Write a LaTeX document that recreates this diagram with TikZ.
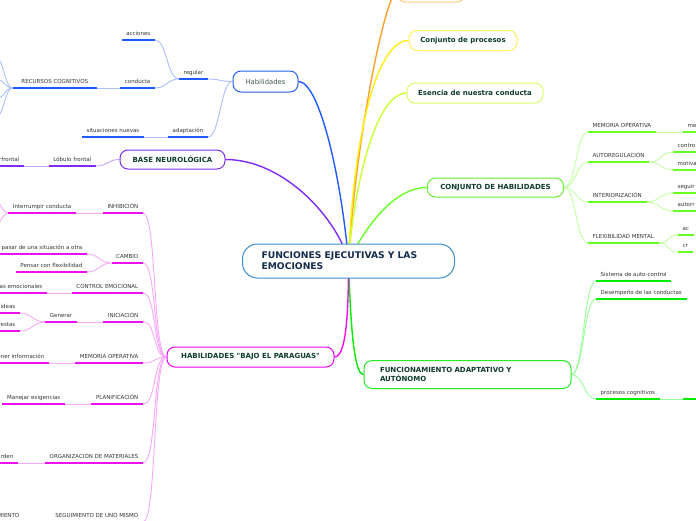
\documentclass[tikz,border=0pt]{standalone}
\usepackage{fontspec}
\setmainfont{DejaVu Sans}
\usepackage{xcolor}
\usepackage{tikz}
\usetikzlibrary{backgrounds}
\definecolor{rootblue}{HTML}{3E8ED0}
\definecolor{roottxt}{HTML}{142C4C}
\definecolor{boxtxt}{HTML}{0E3B2E}
\definecolor{habtxt}{HTML}{3D5A50}
\definecolor{leaftxt}{HTML}{333333}
\definecolor{orng}{HTML}{FF9F2E}
\definecolor{orngbox}{HTML}{FFC97A}
\definecolor{yel}{HTML}{FFEE11}
\definecolor{yelbox}{HTML}{FFF25A}
\definecolor{limeg}{HTML}{CCFF33}
\definecolor{limebox}{HTML}{D9FF66}
\definecolor{grn}{HTML}{66FF22}
\definecolor{grnl}{HTML}{C2FFA0}
\definecolor{grnbox}{HTML}{66EE33}
\definecolor{fgr}{HTML}{00EE00}
\definecolor{fgrl}{HTML}{99FF99}
\definecolor{fgrbox}{HTML}{22EE22}
\definecolor{blu}{HTML}{1F5BFF}
\definecolor{blul}{HTML}{A8C0FF}
\definecolor{blubox}{HTML}{2860F0}
\definecolor{pur}{HTML}{7F2BF5}
\definecolor{purl}{HTML}{C5A4FB}
\definecolor{purbox}{HTML}{7B2EE8}
\definecolor{mag}{HTML}{EE11EE}
\definecolor{magl}{HTML}{F8A8F8}
\definecolor{magbox}{HTML}{EE00EE}
\newcommand{\leaffont}{\fontsize{5.5}{6}\selectfont}
\newcommand{\boxfont}{\fontsize{7}{9}\selectfont\bfseries}
\newcommand{\rootfont}{\fontsize{9.2}{11}\selectfont\bfseries}
\tikzset{
  topic/.style={draw=#1,line width=1pt,rounded corners=8pt,fill=white,
                font=\boxfont,text=boxtxt,inner sep=0pt,minimum height=20pt},
  leaf/.style={font=\leaffont,text=leaftxt,inner xsep=4.5pt,inner ysep=2.5pt,
               text height=4.5pt,text depth=1.5pt,
               append after command={(\tikzlastnode.south west) edge[draw=#1,line width=2pt] (\tikzlastnode.south east)}},
  lleaf/.style={leaf=#1,anchor=south east},
  rleaf/.style={leaf=#1,anchor=south west},
  branch/.style={draw=#1,line width=1.4pt},
  con/.style={draw=#1,line width=0.9pt}
}

\begin{document}
\begin{tikzpicture}[x=1pt,y=-1pt]
  \useasboundingbox (0,0) rectangle (696,520);
  \clip (0,0) rectangle (696,520);
  % central topic and main topics
  \node[draw=rootblue,line width=1pt,rounded corners=15pt,fill=white,minimum height=34pt,
        text width=174pt,inner xsep=19pt,inner ysep=0pt,align=left,font=\rootfont,text=roottxt]
        (root) at (348.5,261) {FUNCIONES EJECUTIVAS Y LAS\\EMOCIONES};
  \node[topic=orngbox,minimum width=68pt] (orange) at (431,-8) {};
  \node[topic=yelbox,minimum width=108pt] (procesos) at (463,40.5) {Conjunto de procesos};
  \node[topic=limebox,minimum width=136pt] (esencia) at (475,93) {Esencia de nuestra conducta};
  \node[topic=grnbox,minimum width=136pt,minimum height=19pt] (conj) at (495.5,187.5) {CONJUNTO DE HABILIDADES};
  \node[topic=fgrbox,minimum height=28pt,text width=175pt,inner xsep=16pt,align=left]
        (func) at (467.5,374.5) {FUNCIONAMIENTO ADAPTATIVO Y\\AUTÓNOMO};
  \node[topic=blubox,minimum width=65pt,minimum height=21pt,font=\fontsize{6.8}{8}\selectfont,text=habtxt]
        (hab) at (265.5,81.5) {Habilidades};
  \node[topic=purbox,minimum width=105pt,minimum height=19pt] (base) at (172.5,159.5) {BASE NEUROLÓGICA};
  \node[topic=magbox,minimum width=167pt] (bajo) at (250.5,357) {HABILIDADES \textquotedbl{}BAJO EL PARAGUAS\textquotedbl};

  % Habilidades
  \node[lleaf=blu] (regular) at (208,79) {regular};
  \node[lleaf=blu] (acciones) at (155,40) {acciones};
  \node[lleaf=blu] (conducta) at (155,88) {conducta};
  \node[lleaf=blu,minimum width=84pt] (recursos) at (97,88) {RECURSOS COGNITIVOS};
  \node[lleaf=blu] (adapt) at (208,137) {adaptación};
  \node[lleaf=blu] (situac) at (144,137) {situaciones nuevas};
  \coordinate (rc1) at (-4,58);
  \coordinate (rc2) at (-4,79);
  \coordinate (rc3) at (-4,99);
  \coordinate (rc4) at (-4,117);

  % base neurologica
  \node[lleaf=pur] (lobulo) at (96,166) {Lóbulo frontal};
  \node[lleaf=pur] (prefr) at (24,166) {rfrontal};

  % bajo el paraguas
  \node[lleaf=mag] (inhib) at (143,213) {INHIBICIÓN};
  \node[lleaf=mag] (interr) at (76,213) {Interrumpir conducta};
  \coordinate (ir1) at (-6,200);
  \coordinate (ir2) at (-6,226);
  \node[lleaf=mag] (cambio) at (143,263) {CAMBIO};
  \node[lleaf=mag] (pasar) at (87,254) {pasar de una situación a otra};
  \node[lleaf=mag] (pensar) at (87,272) {Pensar con flexibilidad};
  \node[lleaf=mag] (control) at (143,293) {CONTROL EMOCIONAL};
  \node[lleaf=mag] (emoc) at (47,293) {as emocionales};
  \node[lleaf=mag] (inic) at (143,322) {INICIACIÓN};
  \node[lleaf=mag] (generar) at (77,322) {Generar};
  \node[lleaf=mag] (ideas) at (20,313) {ideas};
  \node[lleaf=mag] (respu) at (20,331) {uestas};
  \node[lleaf=mag] (memop) at (143,363) {MEMORIA OPERATIVA};
  \node[lleaf=mag] (mante) at (49,363) {ener información};
  \node[lleaf=mag] (planif) at (143,404) {PLANIFICACIÓN};
  \node[lleaf=mag] (manejar) at (65,404) {Manejar exigencias};
  \node[lleaf=mag] (organiz) at (143,463) {ORGANIZACIÓN DE MATERIALES};
  \node[lleaf=mag] (orden) at (18,463) {rden};
  \node[lleaf=mag] (seguim) at (143,522) {SEGUIMIENTO DE UNO MISMO};
  \node[lleaf=mag] (segchild) at (24,522) {MIENTO};

  % conjunto de habilidades
  \node[rleaf=grn] (memo2) at (588,132) {MEMORIA OPERATIVA};
  \node[rleaf=grn] (me) at (683,132) {me};
  \node[rleaf=grn] (autoreg) at (588,162) {AUTOREGULACIÓN};
  \node[rleaf=grn] (contro) at (673,152) {contro};
  \node[rleaf=grn] (motiva) at (673,170) {motiva};
  \node[rleaf=grn] (interior) at (588,202) {INTERIORIZACIÓN};
  \node[rleaf=grn] (seguir) at (673,193) {seguir};
  \node[rleaf=grn] (autorr) at (673,211) {autorr};
  \node[rleaf=grn] (flexi) at (588,243) {FLEXIBILIDAD MENTAL};
  \node[rleaf=grn] (ac) at (678,235) {ac};
  \node[rleaf=grn] (cr) at (678,252) {cr};

  % funcionamiento adaptativo
  \node[rleaf=fgr] (sistema) at (596,281) {Sistema de auto-control};
  \node[rleaf=fgr] (desemp) at (596,299) {Desempeño de las conductas};
  \node[rleaf=fgr] (proccog) at (596,399) {procesos cognitivos};
  \node[rleaf=fgr,minimum width=30pt] (procnext) at (683,399) {};

  \begin{scope}[on background layer]
    \draw[branch=orng] (root.center) .. controls +(8,-130) and +(-10,0) .. (orange.west);
    \draw[branch=yel] (root.center) .. controls +(4,-110) and +(-35,0) .. (procesos.west);
    \draw[branch=limeg] (root.center) .. controls +(6,-80) and +(-30,0) .. (esencia.west);
    \draw[branch=grn] (root.center) .. controls +(15,-30) and +(-35,0) .. (conj.west);
    \draw[branch=fgr] (root.center) .. controls +(2,60) and +(-10,0) .. (func.west);
    \draw[branch=blu] (root.center) .. controls +(-8,-90) and +(20,0) .. (hab.east);
    \draw[branch=pur] (root.center) .. controls +(-10,-40) and +(60,0) .. (base.east);
    \draw[branch=mag] (root.center) .. controls +(0,50) and +(12,0) .. (bajo.east);

    \foreach \n in {regular,adapt}
      \draw[con=blul] (hab.west) .. controls +(-12,0) and +(12,0) .. (\n.south east);
    \foreach \n in {acciones,conducta}
      \draw[con=blul] (regular.south west) .. controls +(-12,0) and +(12,0) .. (\n.south east);
    \draw[con=blul] (conducta.south west) -- (recursos.south east);
    \draw[con=blul] (adapt.south west) -- (situac.south east);
    \foreach \n in {rc1,rc2,rc3,rc4}
      \draw[con=blul] (recursos.south west) .. controls +(-8,0) and +(8,0) .. (\n);

    \draw[con=purl] (base.west) .. controls +(-12,0) and +(12,0) .. (lobulo.south east);
    \draw[con=purl] (lobulo.south west) -- (prefr.south east);

    \foreach \n in {inhib,cambio,control,inic,memop,planif,organiz,seguim}
      \draw[con=magl] (bajo.west) .. controls +(-14,0) and +(14,0) .. (\n.south east);
    \draw[con=magl] (inhib.south west) -- (interr.south east);
    \foreach \n in {ir1,ir2}
      \draw[con=magl] (interr.south west) .. controls +(-6,0) and +(6,0) .. (\n);
    \foreach \n in {pasar,pensar}
      \draw[con=magl] (cambio.south west) .. controls +(-12,0) and +(12,0) .. (\n.south east);
    \draw[con=magl] (control.south west) -- (emoc.south east);
    \draw[con=magl] (inic.south west) -- (generar.south east);
    \foreach \n in {ideas,respu}
      \draw[con=magl] (generar.south west) .. controls +(-12,0) and +(12,0) .. (\n.south east);
    \draw[con=magl] (memop.south west) -- (mante.south east);
    \draw[con=magl] (planif.south west) -- (manejar.south east);
    \draw[con=magl] (organiz.south west) -- (orden.south east);
    \draw[con=magl] (seguim.south west) -- (segchild.south east);

    \foreach \n in {memo2,autoreg,interior,flexi}
      \draw[con=grnl] (conj.east) .. controls +(12,0) and +(-12,0) .. (\n.south west);
    \draw[con=grnl] (memo2.south east) -- (me.south west);
    \foreach \a/\b in {autoreg/contro,autoreg/motiva,interior/seguir,interior/autorr,flexi/ac,flexi/cr}
      \draw[con=grnl] (\a.south east) .. controls +(12,0) and +(-12,0) .. (\b.south west);

    \foreach \n in {sistema,desemp,proccog}
      \draw[con=fgrl] (func.east) .. controls +(12,0) and +(-12,0) .. (\n.south west);
    \draw[con=fgrl] (proccog.south east) -- (procnext.south west);
  \end{scope}
\end{tikzpicture}
\end{document}
